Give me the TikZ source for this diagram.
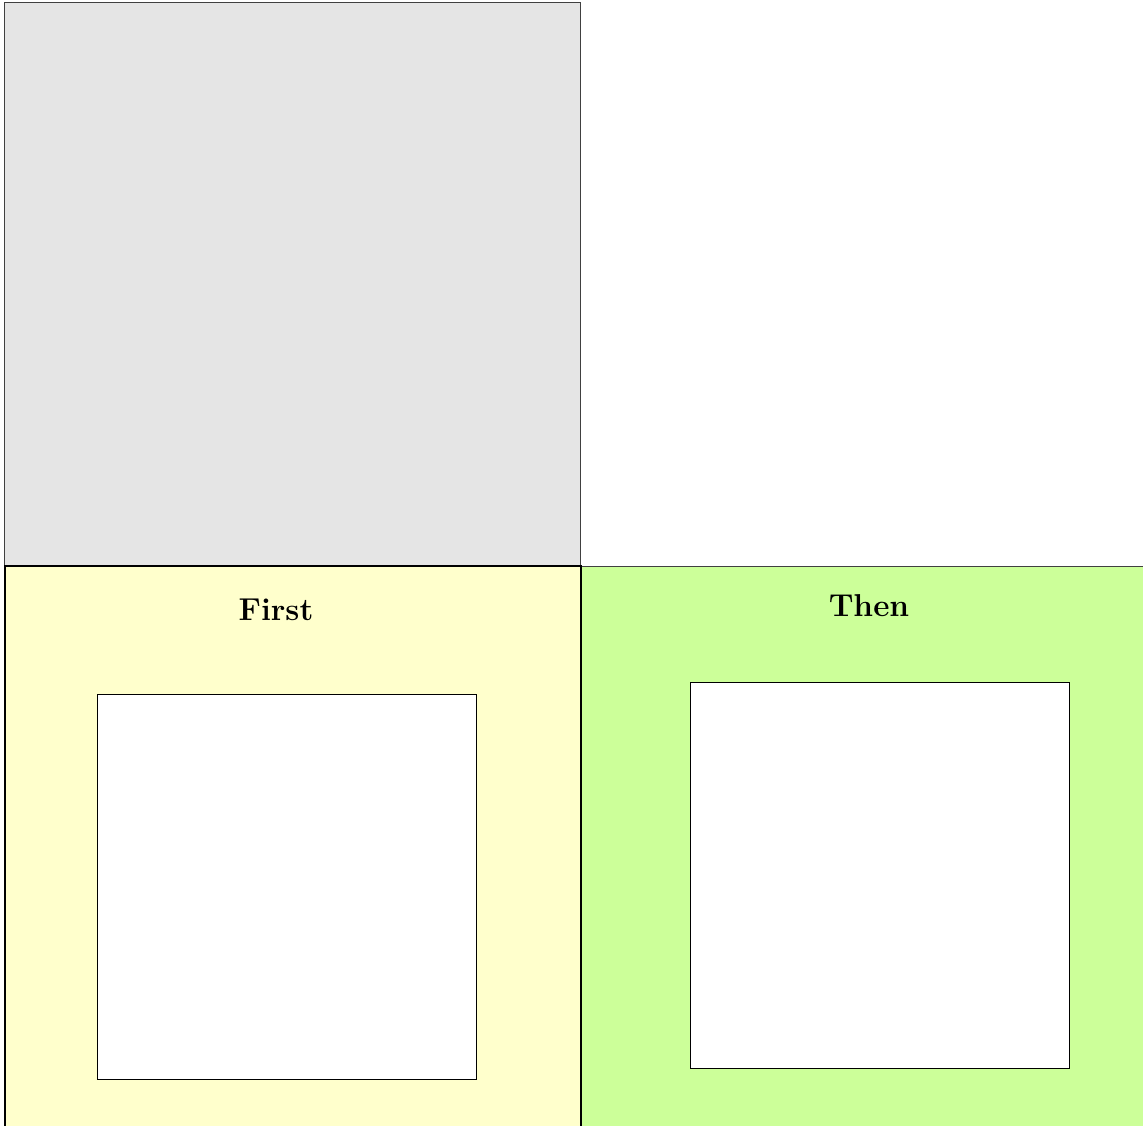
\documentclass[tikz,border=0pt]{standalone}
\usetikzlibrary{positioning}

\definecolor{panelgray}{HTML}{E5E5E5}
\definecolor{paleyellow}{HTML}{FFFFCC}
\definecolor{palegreen}{HTML}{CCFF99}

\begin{document}
\begin{tikzpicture}[
x=0.02cm, y=-0.02cm,
panel/.style={draw, rectangle, inner sep=0pt, anchor=north west},
frame/.style={draw, rectangle, fill=white, inner sep=0pt, anchor=north west, minimum width=7.58cm, line width=0.6pt},
title/.style={font=\fontsize{18}{22}\selectfont\bfseries}
]
\useasboundingbox (0,0) rectangle (1143,1126);

% Top panel
\node[panel, fill=panelgray, draw=black!75, line width=0.8pt, minimum width=11.52cm, minimum height=11.26cm] (top) at (4,2) {};

% Then panel
\node[panel, fill=palegreen, draw=black!75, line width=0.7pt, minimum width=11.4cm, minimum height=11.4cm] (then) at (580,566) {};

% First panel
\node[panel, fill=paleyellow, line width=1.2pt, minimum width=11.52cm, minimum height=11.4cm] (first) at (4,565) {};

% Titles
\node[title] (firsttitle) at (276,610) {First};
\node[title] (thentitle) at (869,606) {Then};

% Inner frames
\node[frame, minimum height=7.7cm] (firstframe) at (97,694) {};
\node[frame, minimum height=7.72cm] (thenframe) at (690,682) {};

\end{tikzpicture}
\end{document}
